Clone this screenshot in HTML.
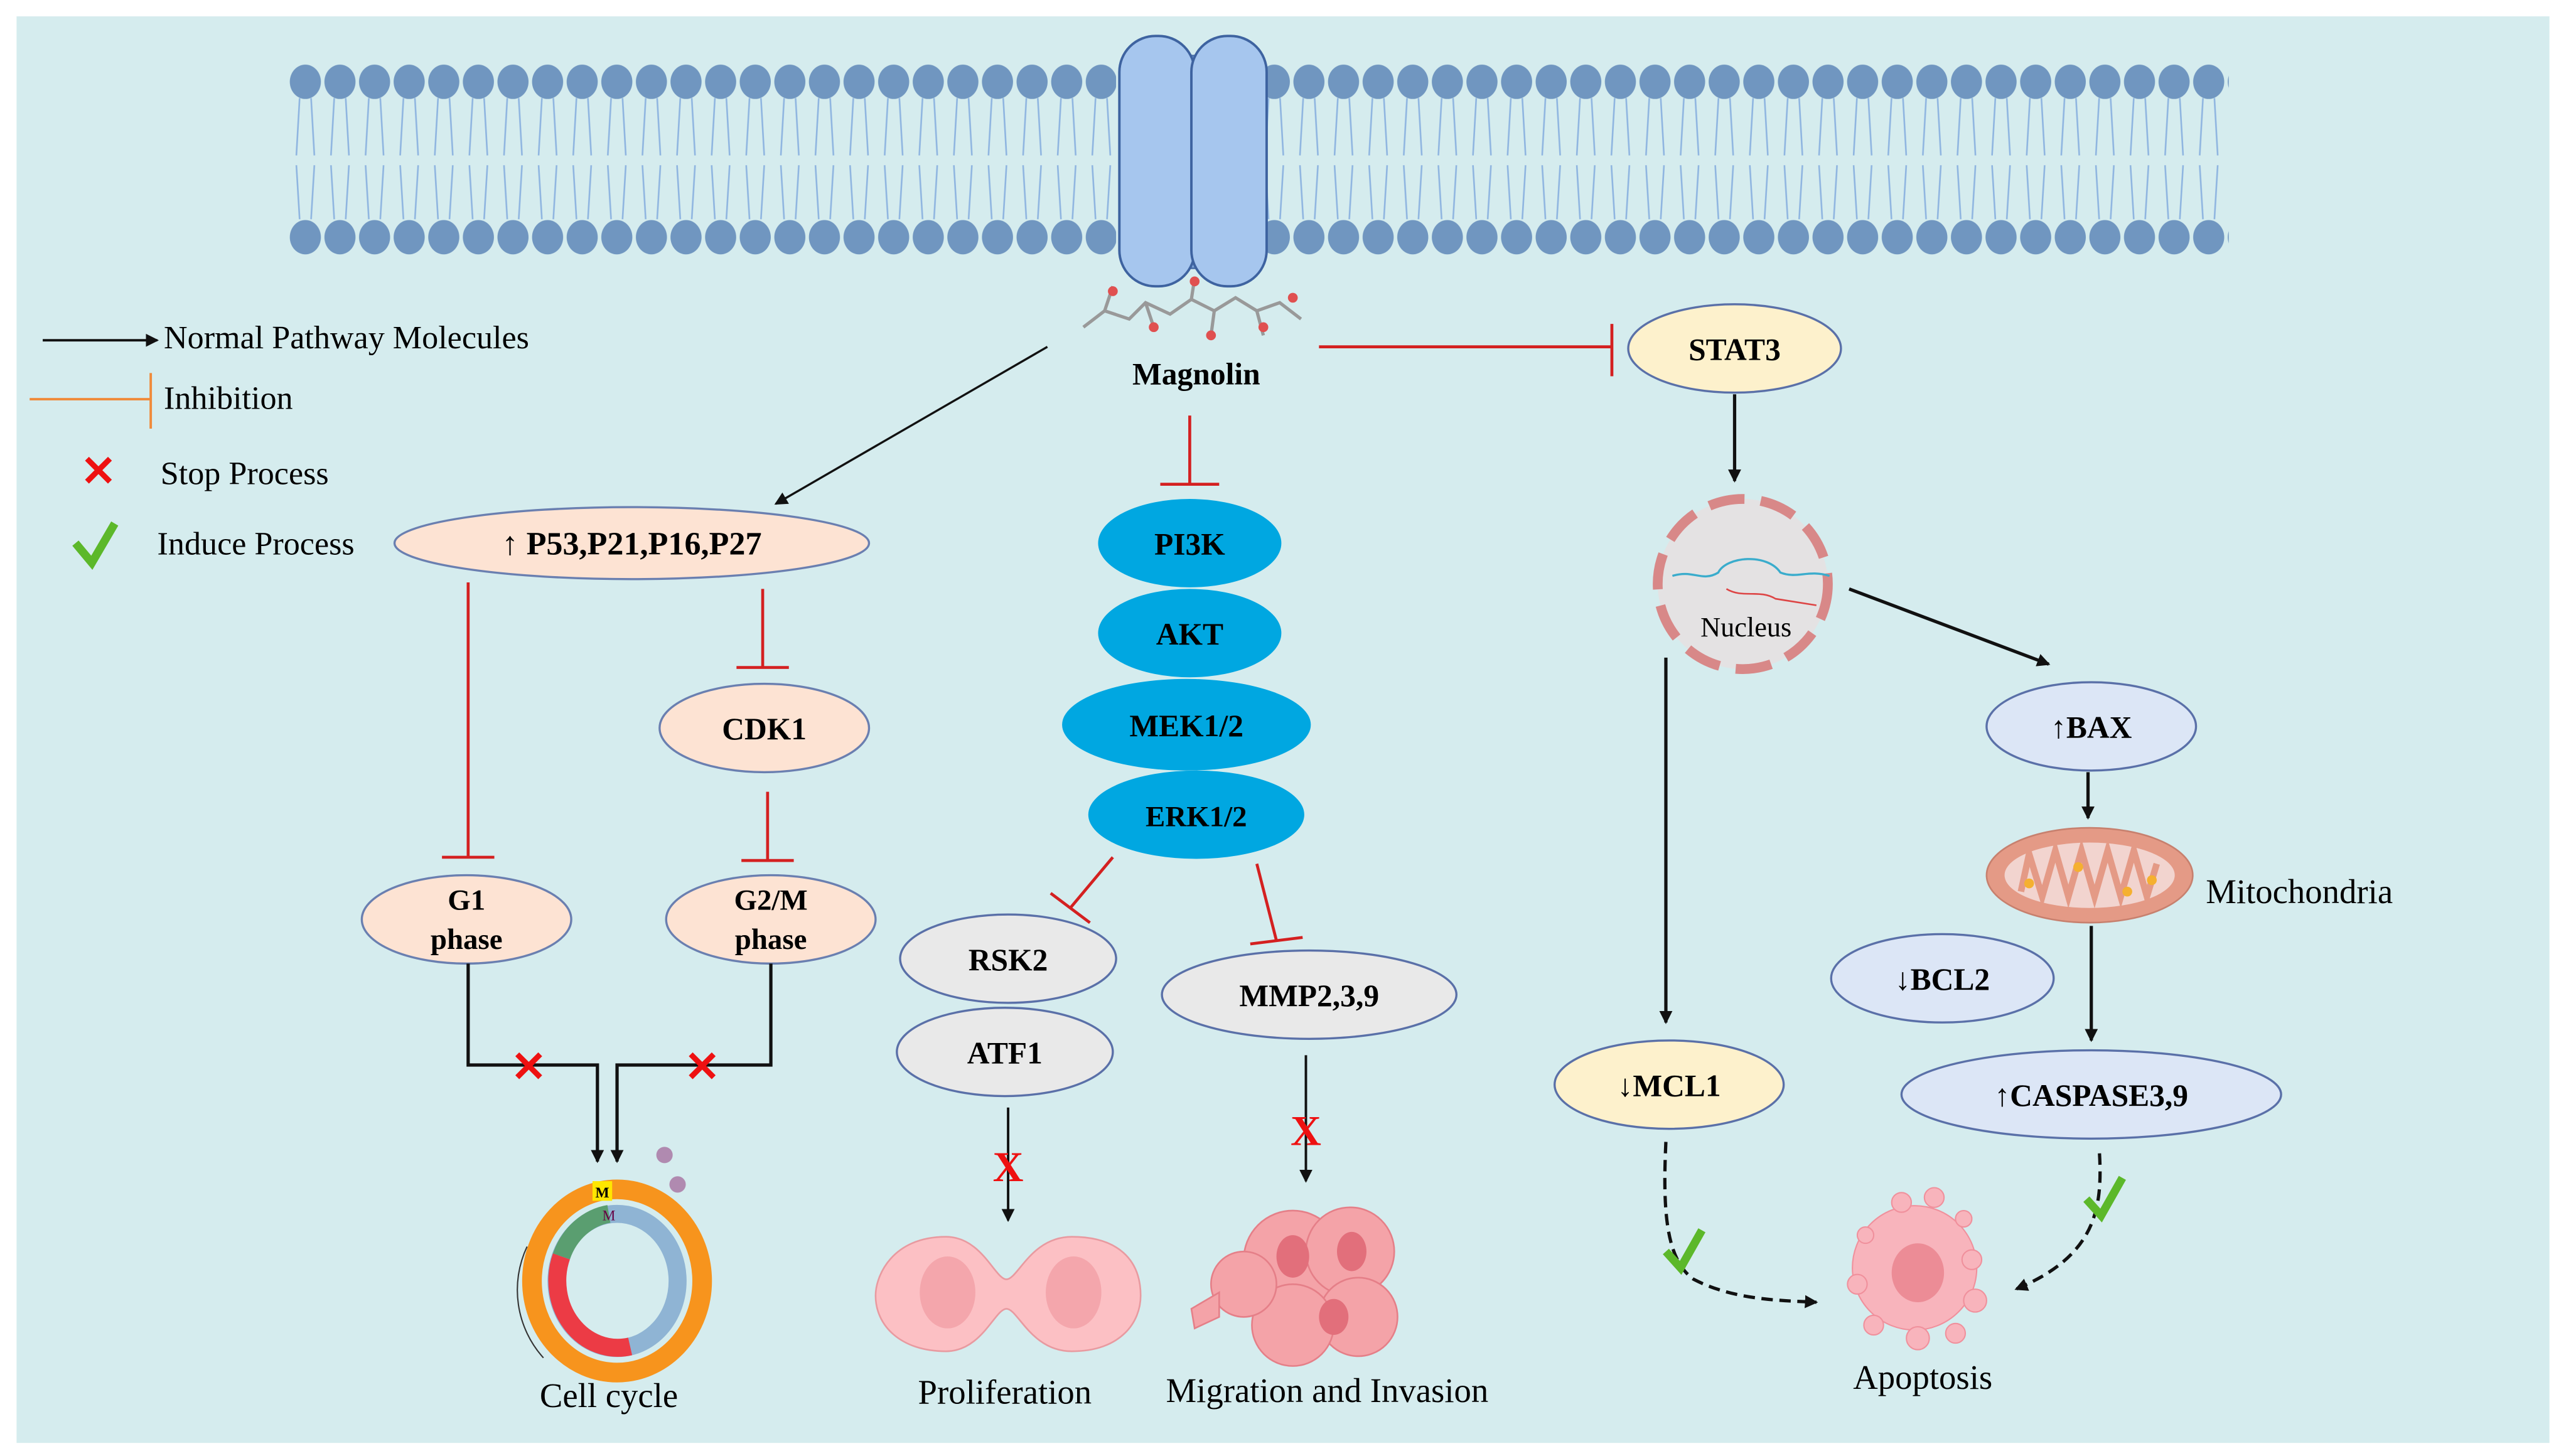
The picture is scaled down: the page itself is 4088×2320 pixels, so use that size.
<!DOCTYPE html>
<html><head><meta charset="utf-8"><style>
html,body{margin:0;padding:0;background:#fff;}
svg{display:block;}
svg text{font-family:"Liberation Serif","Times New Roman",serif;}
</style></head><body>
<svg width="4088" height="2320" viewBox="0 0 1568 890" xmlns="http://www.w3.org/2000/svg" font-family="Liberation Serif, serif">
<defs>
<pattern id="mem" patternUnits="userSpaceOnUse" x="176" y="36" width="21.15" height="124">
<ellipse cx="10.5" cy="14" rx="9.5" ry="10.5" fill="#7096c0"/>
<ellipse cx="10.5" cy="109" rx="9.5" ry="10.5" fill="#7096c0"/>
<path d="M7 24 L5 59 M14 24 L16 59 M5 65 L7 98 M16 65 L14 98" stroke="#8fb5e0" stroke-width="1" fill="none"/>
</pattern>
<marker id="ah" markerWidth="8" markerHeight="8" refX="7" refY="4" orient="auto" markerUnits="userSpaceOnUse"><path d="M0,0 L8,4 L0,8 z" fill="#111"/></marker>
</defs>
<rect x="0" y="0" width="1568" height="890" fill="#fff"/>
<rect x="10" y="10" width="1548" height="872" fill="#d5ecee"/>
<rect x="176" y="36" width="1186" height="124" fill="url(#mem)"/>
<rect x="682" y="22" width="92" height="153" fill="#d5ecee"/>
<rect x="707" y="34" width="44" height="130" fill="#7fa6dc" stroke="#4a6fa8"/>
<rect x="684" y="22" width="46" height="153" rx="22" fill="#a6c6ee" stroke="#3e63a0" stroke-width="1.5"/>
<rect x="728" y="22" width="46" height="153" rx="22" fill="#a6c6ee" stroke="#3e63a0" stroke-width="1.5"/>
<g stroke="#999" stroke-width="2" fill="none">
<path d="M662 200 L675 190 L690 195 L700 185 L715 192 L728 183 L742 190 L755 182 L768 190 L782 185 L795 195"/>
<path d="M675 190 L680 175 M700 185 L705 200 M742 190 L740 205 M768 190 L772 205 M728 183 L730 170"/>
</g>
<g fill="#e05050"><circle cx="680" cy="178" r="3"/><circle cx="705" cy="200" r="3"/><circle cx="740" cy="205" r="3"/><circle cx="772" cy="200" r="3"/><circle cx="790" cy="182" r="3"/><circle cx="730" cy="172" r="3"/></g>
<text x="731" y="235" font-size="19" font-weight="bold" text-anchor="middle">Magnolin</text>
<line x1="26" y1="208" x2="96" y2="208" stroke="#111" stroke-width="1.5" marker-end="url(#ah)"/>
<text x="100" y="213" font-size="20">Normal Pathway Molecules</text>
<line x1="18" y1="244" x2="92" y2="244" stroke="#f08a3a" stroke-width="1.5"/>
<line x1="92" y1="228" x2="92" y2="262" stroke="#f08a3a" stroke-width="1.5"/>
<text x="100" y="250" font-size="20">Inhibition</text>
<text x="60" y="297" font-size="26" fill="#e11" text-anchor="middle" font-weight="bold">✕</text>
<text x="98" y="296" font-size="20">Stop Process</text>
<path d="M46 332 L56 344 L70 320" stroke="#5cb82a" stroke-width="5" fill="none"/>
<text x="96" y="339" font-size="20">Induce Process</text>
<line x1="640" y1="212" x2="474" y2="308" stroke="#111" stroke-width="1.3" marker-end="url(#ah)"/>
<ellipse cx="386" cy="332" rx="145" ry="22" fill="#fde3d3" stroke="#6a7fb0" stroke-width="1.3"/>
<text x="386" y="339" font-size="20" font-weight="bold" text-anchor="middle">↑ P53,P21,P16,P27</text>
<g stroke="#d42020" stroke-width="1.8" fill="none">
<line x1="286" y1="356" x2="286" y2="524"/><line x1="270" y1="524" x2="302" y2="524"/>
<line x1="466" y1="360" x2="466" y2="408"/><line x1="450" y1="408" x2="482" y2="408"/>
<line x1="469" y1="484" x2="469" y2="526"/><line x1="453" y1="526" x2="485" y2="526"/>
<line x1="727" y1="254" x2="727" y2="296"/><line x1="709" y1="296" x2="745" y2="296"/>
<line x1="806" y1="212" x2="985" y2="212"/><line x1="985" y1="198" x2="985" y2="230"/>
<line x1="680" y1="524" x2="654" y2="555"/><line x1="642" y1="546" x2="666" y2="564"/>
<line x1="768" y1="528" x2="780" y2="575"/><line x1="764" y1="577" x2="796" y2="573"/>
</g>
<ellipse cx="467" cy="445" rx="64" ry="27" fill="#fde3d3" stroke="#6a7fb0" stroke-width="1.3"/>
<text x="467" y="452" font-size="19" font-weight="bold" text-anchor="middle">CDK1</text>
<ellipse cx="285" cy="562" rx="64" ry="27" fill="#fde3d3" stroke="#6a7fb0" stroke-width="1.3"/>
<text x="285" y="556" font-size="18" font-weight="bold" text-anchor="middle">G1</text>
<text x="285" y="580" font-size="18" font-weight="bold" text-anchor="middle">phase</text>
<ellipse cx="471" cy="562" rx="64" ry="27" fill="#fde3d3" stroke="#6a7fb0" stroke-width="1.3"/>
<text x="471" y="556" font-size="18" font-weight="bold" text-anchor="middle">G2/M</text>
<text x="471" y="580" font-size="18" font-weight="bold" text-anchor="middle">phase</text>
<path d="M286 589 L286 651 L365 651 L365 710" stroke="#111" stroke-width="2" fill="none" marker-end="url(#ah)"/>
<path d="M471 589 L471 651 L377 651 L377 710" stroke="#111" stroke-width="2" fill="none" marker-end="url(#ah)"/>
<text x="323" y="661" font-size="26" fill="#e11" text-anchor="middle" font-weight="bold">✕</text>
<text x="429" y="661" font-size="26" fill="#e11" text-anchor="middle" font-weight="bold">✕</text>
<ellipse cx="377" cy="783" rx="52" ry="56" fill="none" stroke="#f7941d" stroke-width="12"/>
<ellipse cx="377" cy="783" rx="37" ry="41" fill="none" stroke="#8fb4d4" stroke-width="11"/>
<path d="M372 742 A37 41 0 0 0 343 768" fill="none" stroke="#5a9e70" stroke-width="11"/>
<path d="M343 768 A37 41 0 0 0 385 823" fill="none" stroke="#ec3b45" stroke-width="11"/>
<rect x="362" y="722" width="12" height="12" fill="#ffe600"/>
<text x="368" y="732" font-size="9" text-anchor="middle" font-weight="bold">M</text>
<text x="372" y="746" font-size="9" text-anchor="middle" fill="#604">M</text>
<circle cx="406" cy="706" r="5" fill="#b08ab0"/><circle cx="414" cy="724" r="5" fill="#b08ab0"/>
<path d="M322 762 A62 62 0 0 0 332 830" stroke="#333" stroke-width="0.8" fill="none"/>
<text x="372" y="860" font-size="21" text-anchor="middle">Cell cycle</text>
<ellipse cx="727" cy="332" rx="56" ry="27" fill="#00a7e1"/>
<text x="727" y="339" font-size="19" font-weight="bold" text-anchor="middle">PI3K</text>
<ellipse cx="727" cy="387" rx="56" ry="27" fill="#00a7e1"/>
<text x="727" y="394" font-size="19" font-weight="bold" text-anchor="middle">AKT</text>
<ellipse cx="725" cy="443" rx="76" ry="28" fill="#00a7e1"/>
<text x="725" y="450" font-size="19" font-weight="bold" text-anchor="middle">MEK1/2</text>
<ellipse cx="731" cy="498" rx="66" ry="27" fill="#00a7e1"/>
<text x="731" y="505" font-size="18" font-weight="bold" text-anchor="middle">ERK1/2</text>
<ellipse cx="616" cy="586" rx="66" ry="27" fill="#e9e9e9" stroke="#5a70a8" stroke-width="1.3"/>
<text x="616" y="593" font-size="19" font-weight="bold" text-anchor="middle">RSK2</text>
<ellipse cx="614" cy="643" rx="66" ry="27" fill="#e9e9e9" stroke="#5a70a8" stroke-width="1.3"/>
<text x="614" y="650" font-size="19" font-weight="bold" text-anchor="middle">ATF1</text>
<ellipse cx="800" cy="608" rx="90" ry="27" fill="#e9e9e9" stroke="#5a70a8" stroke-width="1.3"/>
<text x="800" y="615" font-size="19" font-weight="bold" text-anchor="middle">MMP2,3,9</text>
<line x1="616" y1="677" x2="616" y2="746" stroke="#111" stroke-width="1.5" marker-end="url(#ah)"/>
<text x="616" y="722" font-size="26" fill="#e11" text-anchor="middle" font-weight="bold">X</text>
<line x1="798" y1="645" x2="798" y2="722" stroke="#111" stroke-width="1.5" marker-end="url(#ah)"/>
<text x="798" y="700" font-size="26" fill="#e11" text-anchor="middle" font-weight="bold">X</text>
<path d="M578 756 C545 756 535 780 535 792 C535 810 550 826 578 826 C600 826 608 800 615 800 C622 800 630 826 655 826 C685 826 697 808 697 792 C697 770 683 756 655 756 C630 756 622 782 615 782 C608 782 600 756 578 756 Z" fill="#fcc0c4" stroke="#e89aa0"/>
<ellipse cx="579" cy="790" rx="17" ry="22" fill="#f4a6ac"/>
<ellipse cx="656" cy="790" rx="17" ry="22" fill="#f4a6ac"/>
<g fill="#f4a3a8" stroke="#e57f88">
<circle cx="790" cy="770" r="30"/><circle cx="825" cy="765" r="27"/><circle cx="830" cy="805" r="24"/><circle cx="790" cy="810" r="25"/><circle cx="760" cy="785" r="20"/>
<path d="M745 790 L728 800 L730 812 L745 805 Z"/>
</g>
<g fill="#e26f7b"><ellipse cx="790" cy="768" rx="10" ry="13"/><ellipse cx="826" cy="765" rx="9" ry="12"/><ellipse cx="815" cy="805" rx="9" ry="11"/></g>
<text x="614" y="858" font-size="21" text-anchor="middle">Proliferation</text>
<text x="811" y="857" font-size="21" text-anchor="middle">Migration and Invasion</text>
<ellipse cx="1060" cy="213" rx="65" ry="27" fill="#fdf1cc" stroke="#5a70a8" stroke-width="1.3"/>
<text x="1060" y="220" font-size="19" font-weight="bold" text-anchor="middle">STAT3</text>
<line x1="1060" y1="241" x2="1060" y2="294" stroke="#111" stroke-width="2" marker-end="url(#ah)"/>
<circle cx="1065" cy="357" r="52" fill="#e9dede" fill-opacity="0.7" stroke="#d88888" stroke-width="6" stroke-dasharray="22 10"/>
<path d="M1022 352 C1035 348 1040 356 1050 350 C1055 340 1080 338 1088 350 C1098 354 1105 348 1118 352" stroke="#3aaccc" stroke-width="1.3" fill="none"/>
<path d="M1055 360 C1065 366 1075 360 1085 366 L1110 370" stroke="#d44" stroke-width="1" fill="none"/>
<text x="1067" y="389" font-size="17" text-anchor="middle">Nucleus</text>
<line x1="1018" y1="402" x2="1018" y2="625" stroke="#111" stroke-width="2" marker-end="url(#ah)"/>
<line x1="1130" y1="360" x2="1252" y2="406" stroke="#111" stroke-width="2" marker-end="url(#ah)"/>
<ellipse cx="1278" cy="444" rx="64" ry="27" fill="#dce6f6" stroke="#5a70a8" stroke-width="1.3"/>
<text x="1278" y="451" font-size="19" font-weight="bold" text-anchor="middle">↑BAX</text>
<line x1="1276" y1="472" x2="1276" y2="500" stroke="#111" stroke-width="2" marker-end="url(#ah)"/>
<ellipse cx="1277" cy="535" rx="63" ry="29" fill="#e49a86" stroke="#c7806e"/>
<ellipse cx="1277" cy="535" rx="52" ry="20" fill="#f2d4cf"/>
<path d="M1235 545 L1240 522 L1248 548 L1256 520 L1264 548 L1272 520 L1280 548 L1288 520 L1296 548 L1304 520 L1312 548 L1318 528" stroke="#e49a86" stroke-width="4" fill="none"/>
<g fill="#f5b030"><circle cx="1240" cy="540" r="3"/><circle cx="1270" cy="530" r="3"/><circle cx="1300" cy="545" r="3"/><circle cx="1315" cy="538" r="3"/></g>
<text x="1348" y="552" font-size="21">Mitochondria</text>
<line x1="1278" y1="566" x2="1278" y2="636" stroke="#111" stroke-width="2" marker-end="url(#ah)"/>
<ellipse cx="1187" cy="598" rx="68" ry="27" fill="#dce6f6" stroke="#5a70a8" stroke-width="1.3"/>
<text x="1187" y="605" font-size="19" font-weight="bold" text-anchor="middle">↓BCL2</text>
<ellipse cx="1278" cy="669" rx="116" ry="27" fill="#dce6f6" stroke="#5a70a8" stroke-width="1.3"/>
<text x="1278" y="676" font-size="19" font-weight="bold" text-anchor="middle">↑CASPASE3,9</text>
<ellipse cx="1020" cy="663" rx="70" ry="27" fill="#fdf1cc" stroke="#5a70a8" stroke-width="1.3"/>
<text x="1020" y="670" font-size="19" font-weight="bold" text-anchor="middle">↓MCL1</text>
<path d="M1018 698 C1016 740 1018 770 1035 782 C1060 795 1090 795 1110 796" stroke="#111" stroke-width="2" stroke-dasharray="7 4" fill="none" marker-end="url(#ah)"/>
<path d="M1283 705 C1285 740 1280 768 1232 788" stroke="#111" stroke-width="2" stroke-dasharray="7 4" fill="none" marker-end="url(#ah)"/>
<path d="M1018 765 L1027 775 L1040 752" stroke="#5cb82a" stroke-width="5" fill="none"/>
<path d="M1275 733 L1284 743 L1297 720" stroke="#5cb82a" stroke-width="5" fill="none"/>
<g fill="#f8b4bc" stroke="#f0909c" stroke-width="0.8">
<circle cx="1170" cy="775" r="38"/><circle cx="1162" cy="735" r="6"/><circle cx="1182" cy="732" r="6"/><circle cx="1200" cy="745" r="5"/><circle cx="1205" cy="770" r="6"/><circle cx="1207" cy="795" r="7"/><circle cx="1195" cy="815" r="6"/><circle cx="1172" cy="818" r="7"/><circle cx="1145" cy="810" r="6"/><circle cx="1135" cy="785" r="6"/><circle cx="1140" cy="755" r="5"/>
</g>
<ellipse cx="1172" cy="778" rx="16" ry="18" fill="#ec8c96"/>
<text x="1175" y="849" font-size="21" text-anchor="middle">Apoptosis</text>
</svg>
</body></html>
